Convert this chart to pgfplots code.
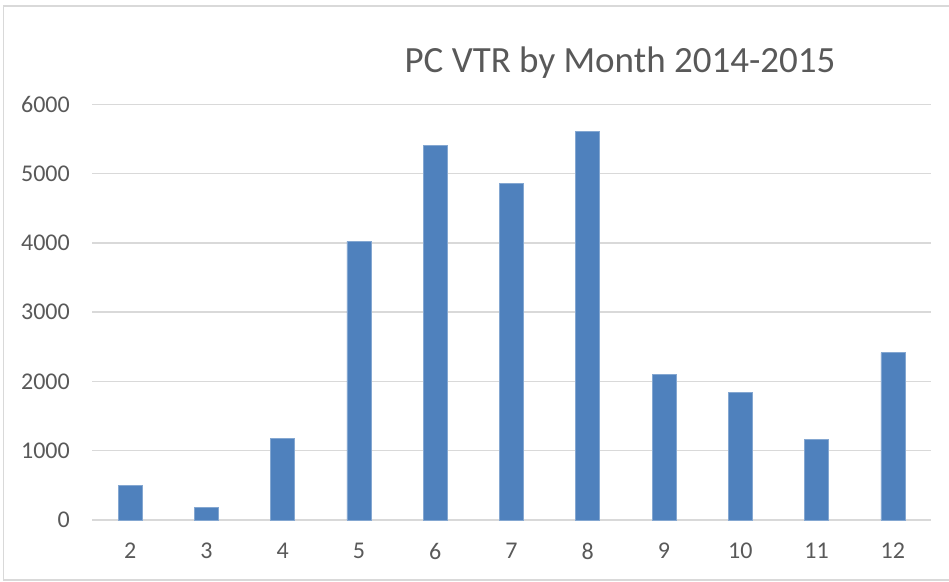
\documentclass[border=0pt]{standalone}
\usepackage{pgfplots}
\pgfplotsset{compat=1.18}
\usepackage{fontspec}
\setmainfont{Carlito}
\definecolor{barblue}{HTML}{4F81BD}
\definecolor{gridgray}{HTML}{D9D9D9}
\definecolor{txtgray}{HTML}{595959}
\begin{document}
\begin{tikzpicture}[x=1bp,y=1bp]
\useasboundingbox (0,0) rectangle (949,582);
\draw[gridgray, line width=1.5bp] (3.5,2) rectangle (951,576);
\node[anchor=base, text=txtgray, font=\fontsize{37bp}{42bp}\selectfont] at (620,509) {PC VTR by Month 2014-2015};
\begin{axis}[
  at={(92bp,62bp)}, anchor=origin,
  scale only axis, width=839bp, height=415.7bp,
  xmin=1.5, xmax=12.5, ymin=0, ymax=6000,
  xtick={2,3,4,5,6,7,8,9,10,11,12},
  ytick={0,1000,2000,3000,4000,5000,6000},
  major tick length=0pt,
  axis x line*=bottom,
  axis y line*=left,
  y axis line style={draw=none},
  x axis line style={gridgray, line width=1.3bp, -},
  ymajorgrids, grid style={gridgray, line width=1.3bp},
  /pgf/number format/assume math mode=true,
  /pgf/number format/set thousands separator={},
  tick label style={text=txtgray, font=\fontsize{24bp}{28bp}\selectfont, inner sep=0pt},
  yticklabel style={anchor=east, xshift=-22bp},
  xticklabel style={anchor=north, yshift=-23bp},
  ybar, bar width=24bp,
  clip=false,
]
\addplot[fill=barblue, draw=barblue!70!white, line width=0.6bp] coordinates {
(2,496) (3,183) (4,1174) (5,4023) (6,5404) (7,4860) (8,5606) (9,2103) (10,1843) (11,1160) (12,2416)
};
\end{axis}
\end{tikzpicture}
\end{document}
